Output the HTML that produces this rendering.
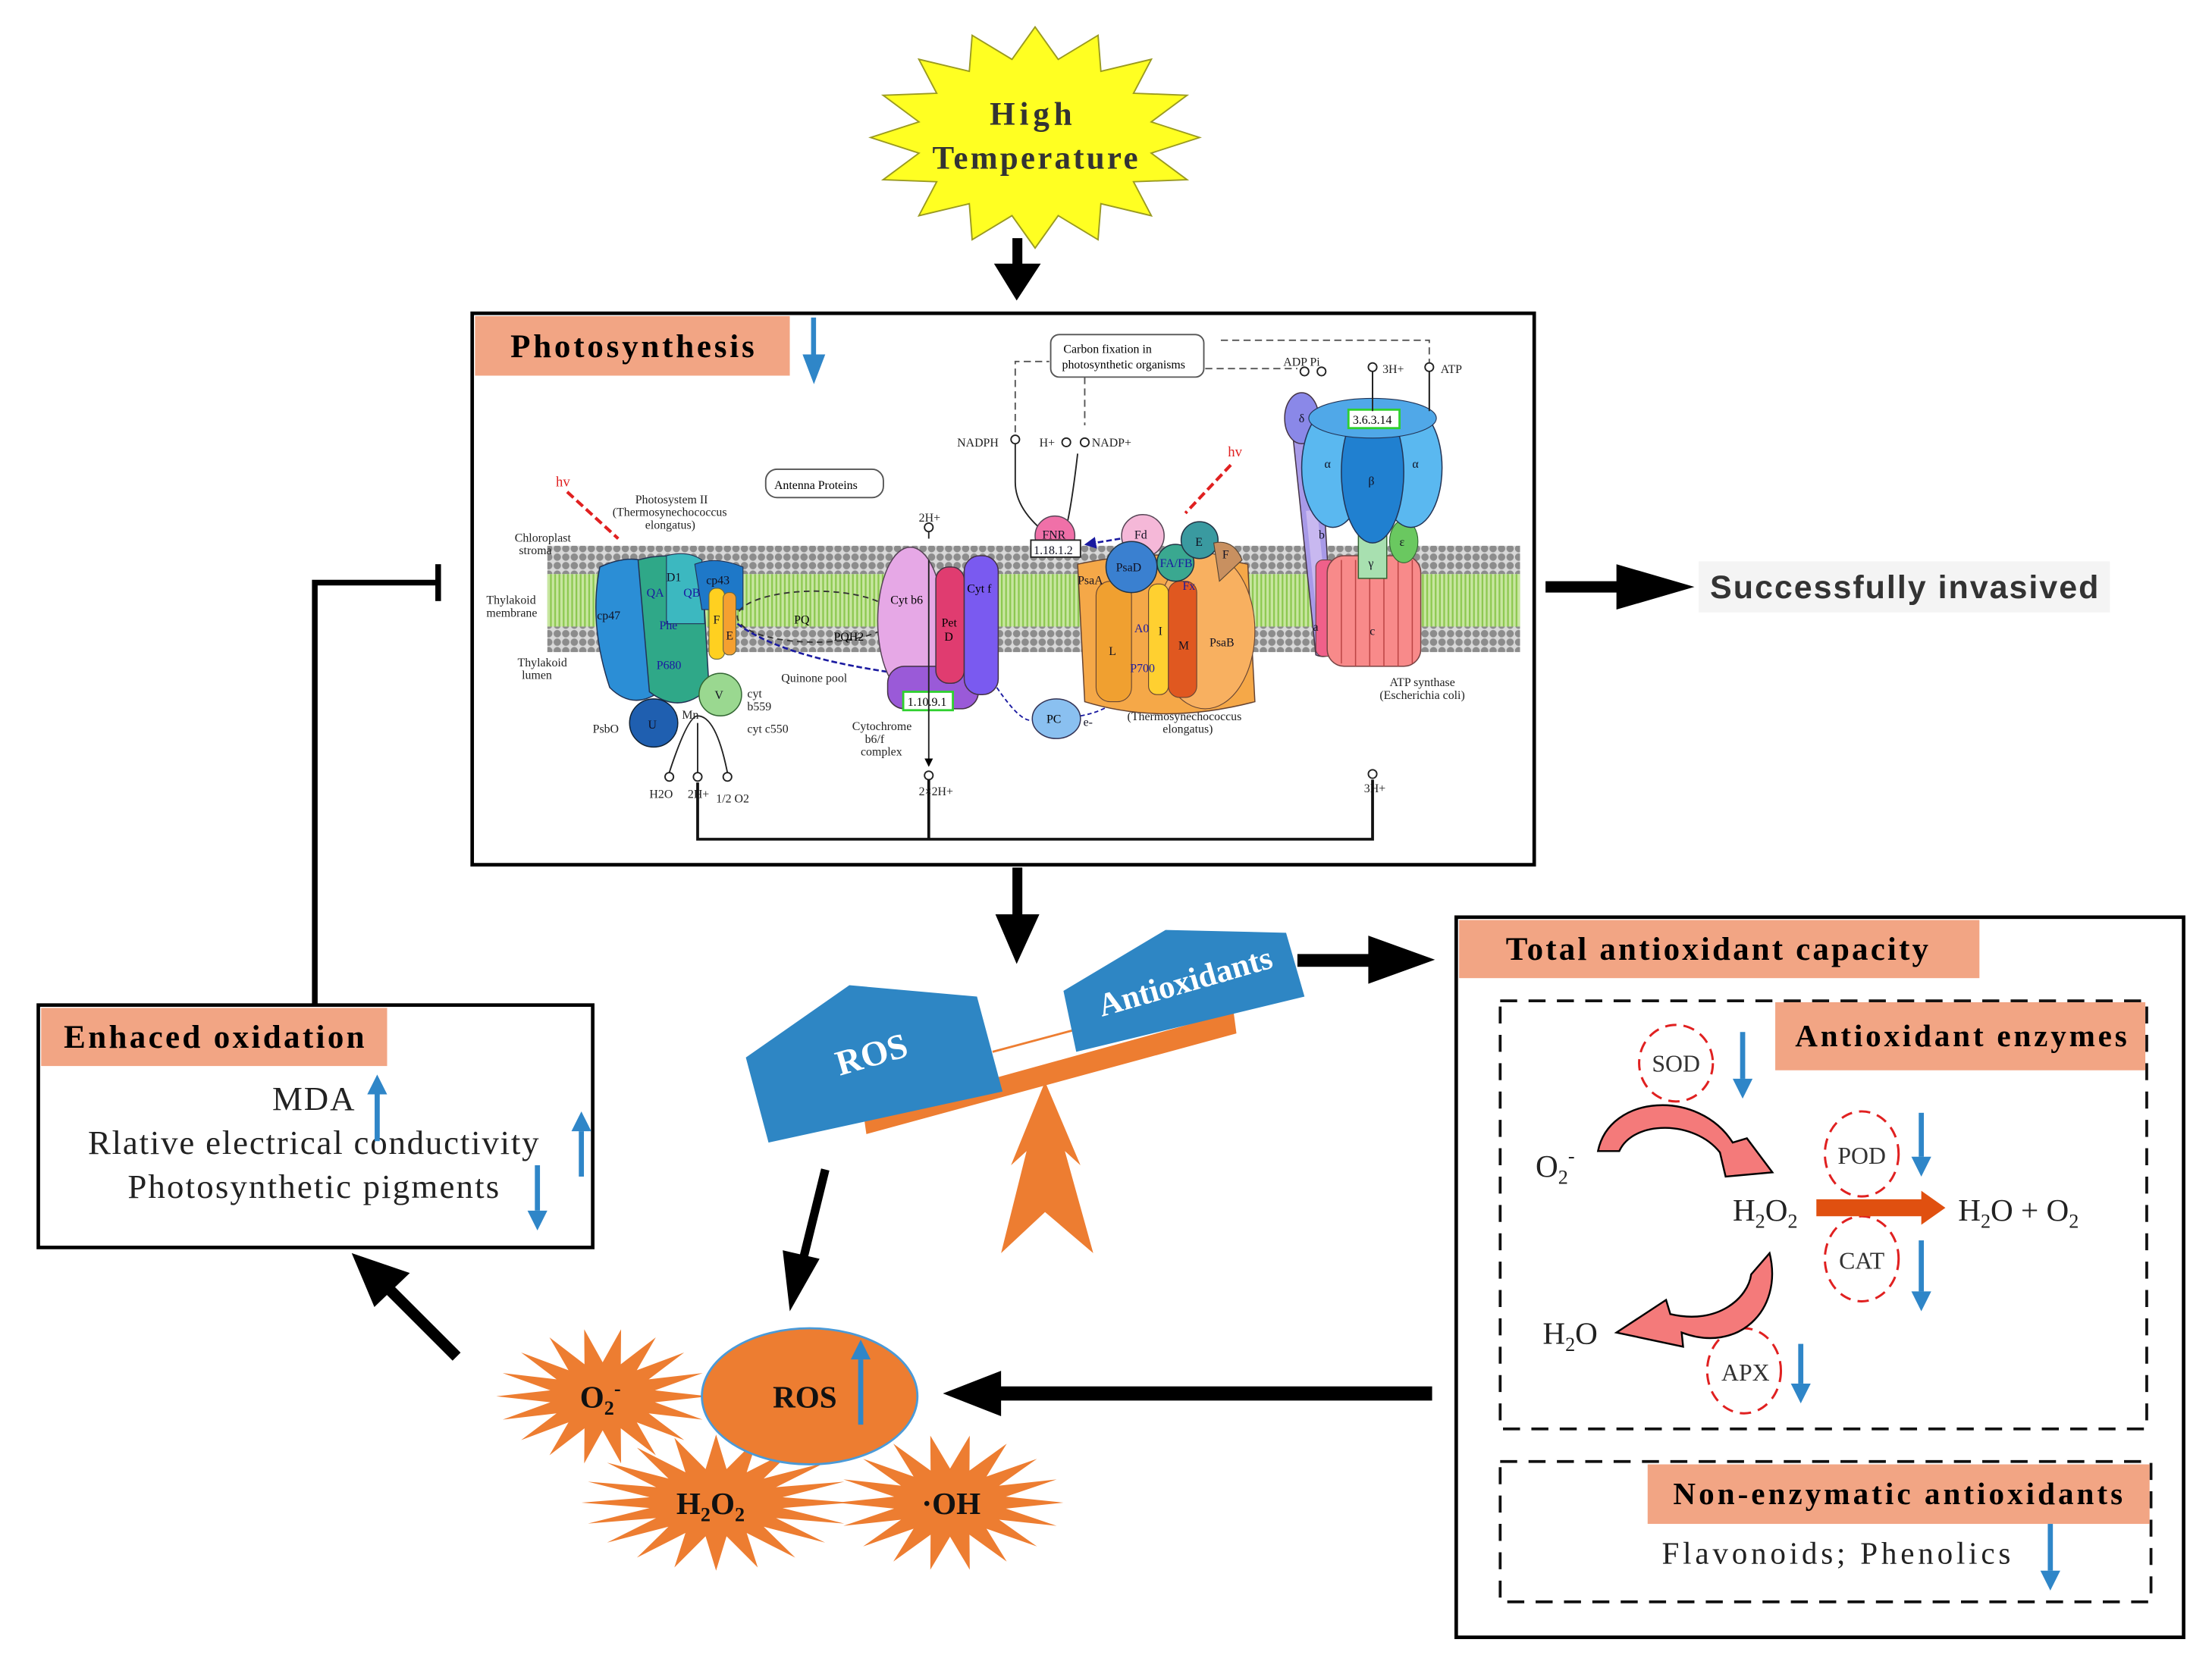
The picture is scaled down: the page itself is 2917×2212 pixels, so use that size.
<!DOCTYPE html>
<html><head><meta charset="utf-8"><style>
html,body{margin:0;padding:0;background:#fff}
svg{display:block}
.s{font-family:"Liberation Serif",serif}
.b{font-weight:bold}
.a{font-family:"Liberation Sans",sans-serif}
</style></head><body>
<svg id="sv" width="2917" height="2212" viewBox="0 0 1560 1183" xmlns="http://www.w3.org/2000/svg">
<defs>
<pattern id="dots" width="6" height="6" patternUnits="userSpaceOnUse"><rect width="6" height="6" fill="#d8d8d8"/><circle cx="3" cy="3" r="2.6" fill="#8c8c8c"/></pattern>
<pattern id="lip" width="6" height="10" patternUnits="userSpaceOnUse"><rect width="6" height="10" fill="#c8e6a0"/><path d="M1.5 0 V10 M4.5 0 V10" stroke="#8cc850" stroke-width="1.2"/></pattern>
<marker id="bh" markerWidth="6" markerHeight="6" refX="5" refY="3" orient="auto"><path d="M0 0 L6 3 L0 6 Z" fill="#000"/></marker>
<marker id="nh" markerWidth="6" markerHeight="6" refX="5" refY="3" orient="auto"><path d="M0 0 L6 3 L0 6 Z" fill="#1a1aa0"/></marker>
</defs>

<!-- star -->
<polygon id="star" fill="#ffff22" stroke="#9a9a20" stroke-width="1"/>
<text class="s b" x="727" y="88" font-size="23" text-anchor="middle" fill="#333" textLength="58">High</text>
<text class="s b" x="730" y="119" font-size="23" text-anchor="middle" fill="#333" textLength="145">Temperature</text>

<!-- arrow star -> photo -->
<rect x="714" y="168" width="7" height="22" fill="#000"/>
<polygon points="701,186 734,186 717,212" fill="#000"/>

<!-- Photosynthesis box -->
<rect x="333" y="221" width="749" height="389" fill="#fff" stroke="#000" stroke-width="2.5"/>
<rect x="335" y="223" width="222" height="42" fill="#f2a584"/>
<text class="s b" x="360" y="252" font-size="23" textLength="172">Photosynthesis</text>
<rect x="572" y="224" width="3.5" height="34" fill="#2f86c8"/>
<polygon points="566,250 582,250 574,271" fill="#2f86c8"/>

<!-- membrane -->
<rect x="386" y="385" width="686" height="20" fill="url(#dots)"/>
<rect x="386" y="405" width="686" height="37" fill="url(#lip)"/>
<rect x="386" y="442" width="686" height="18" fill="url(#dots)"/>

<g font-family="Liberation Serif,serif" font-size="8.5" fill="#222">
<text x="363" y="382">Chloroplast</text><text x="366" y="391">stroma</text>
<text x="343" y="426">Thylakoid</text><text x="343" y="435">membrane</text>
<text x="365" y="470">Thylakoid</text><text x="368" y="479">lumen</text>
<text x="448" y="355">Photosystem II</text><text x="432" y="364">(Thermosynechococcus</text><text x="455" y="373">elongatus)</text>
<text x="418" y="517">PsbO</text><text x="527" y="517">cyt c550</text><text x="527" y="492">cyt</text><text x="527" y="501">b559</text>
<text x="481" y="507">Mn</text><text x="551" y="481">Quinone pool</text>
<text x="601" y="515">Cytochrome</text><text x="610" y="524">b6/f</text><text x="607" y="533">complex</text>
<text x="803" y="499">Photosystem I</text><text x="795" y="508">(Thermosynechococcus</text><text x="820" y="517">elongatus)</text>
<text x="980" y="484">ATP synthase</text><text x="973" y="493">(Escherichia coli)</text>
<text x="675" y="315">NADPH</text><text x="733" y="315">H+</text><text x="770" y="315">NADP+</text>
<text x="905" y="258">ADP Pi</text><text x="975" y="263">3H+</text><text x="1016" y="263">ATP</text>
<text x="648" y="368">2H+</text><text x="458" y="563">H2O</text><text x="485" y="563">2H+</text><text x="505" y="566">1/2 O2</text>
<text x="648" y="561">2×2H+</text><text x="962" y="559">3H+</text>
</g>
<rect x="741" y="236" width="108" height="30" rx="6" fill="#fff" stroke="#555"/>
<text x="750" y="249" font-family="Liberation Serif,serif" font-size="8.5">Carbon fixation in</text>
<text x="749" y="260" font-family="Liberation Serif,serif" font-size="8.5">photosynthetic organisms</text>
<rect x="540" y="331" width="83" height="20" rx="8" fill="#fff" stroke="#555"/>
<text x="546" y="345" font-family="Liberation Serif,serif" font-size="8.5">Antenna Proteins</text>
<g fill="none" stroke="#555" stroke-dasharray="5,3" stroke-width="1">
<path d="M716 305 V255 H740"/><path d="M765 266 V300"/><path d="M850 260 H915"/><path d="M1008 258 V240 H858"/>
</g>
<g fill="none" stroke="#222" stroke-width="1">
<path d="M716 312 V340 Q716 360 740 378"/><path d="M760 320 Q756 355 752 372"/>
<path d="M968 262 V290"/><path d="M1008 262 V290"/>
</g>
<g fill="#fff" stroke="#222" stroke-width="1">
<circle cx="716" cy="310" r="3"/><circle cx="752" cy="312" r="3"/><circle cx="765" cy="312" r="3"/>
<circle cx="920" cy="262" r="3"/><circle cx="932" cy="262" r="3"/><circle cx="968" cy="259" r="3"/><circle cx="1008" cy="259" r="3"/>
<circle cx="655" cy="372" r="3"/><circle cx="655" cy="547" r="3"/><circle cx="968" cy="546" r="3"/>
<circle cx="472" cy="548" r="3"/><circle cx="492" cy="548" r="3"/><circle cx="513" cy="548" r="3"/>
</g>
<!-- hv -->
<text x="392" y="343" font-family="Liberation Serif,serif" font-size="10" fill="#e02020">hv</text>
<path d="M400 347 L436 380" stroke="#e02020" stroke-width="2.2" stroke-dasharray="6,3"/>
<text x="866" y="322" font-family="Liberation Serif,serif" font-size="10" fill="#e02020">hv</text>
<path d="M868 328 L836 362" stroke="#e02020" stroke-width="2.2" stroke-dasharray="6,3"/>

<!-- PSII -->
<path d="M423 400 Q445 390 460 398 L462 490 Q445 500 430 485 Q415 440 423 400Z" fill="#2b8ed6" stroke="#235" stroke-width=".8"/>
<path d="M450 395 Q475 388 495 398 L500 485 Q480 505 458 488 Z" fill="#2fa888" stroke="#235" stroke-width=".8"/>
<path d="M470 392 Q485 388 495 395 L497 440 L470 440Z" fill="#3cb8c0" stroke="#235" stroke-width=".6"/>
<path d="M490 398 Q505 392 524 400 L524 430 L495 430Z" fill="#1e78c8" stroke="#235" stroke-width=".6"/>
<rect x="500" y="415" width="11" height="50" rx="5" fill="#ffd020" stroke="#664" stroke-width=".6"/>
<rect x="510" y="418" width="9" height="44" rx="4" fill="#f5a030" stroke="#664" stroke-width=".6"/>
<circle cx="508" cy="490" r="15" fill="#9ad890" stroke="#363" stroke-width=".8"/>
<ellipse cx="461" cy="510" rx="17" ry="17" fill="#1f5fb0" stroke="#123" stroke-width=".8"/>
<g font-family="Liberation Serif,serif" font-size="8.5" fill="#112">
<text x="421" y="437">cp47</text><text x="470" y="410">D1</text><text x="498" y="412">cp43</text><text x="503" y="440">F</text><text x="512" y="451">E</text>
<text x="465" y="444" fill="#1a1aa0">Phe</text><text x="463" y="472" fill="#1a1aa0">P680</text><text x="456" y="421" fill="#1a1aa0">QA</text><text x="482" y="421" fill="#1a1aa0">QB</text>
<text x="504" y="493">V</text><text x="457" y="514">U</text>
</g>
<!-- PQ loop -->
<ellipse cx="575" cy="435" rx="55" ry="18" fill="none" stroke="#333" stroke-dasharray="4,3"/>
<text x="560" y="440" font-family="Liberation Serif,serif" font-size="8.5">PQ</text>
<text x="588" y="452" font-family="Liberation Serif,serif" font-size="8.5">PQH2</text>
<path d="M520 440 Q560 470 680 480" fill="none" stroke="#1a1aa0" stroke-width="1.4" stroke-dasharray="4,2" marker-end="url(#nh)"/>
<!-- Cyt b6f -->
<ellipse cx="642" cy="438" rx="23" ry="52" fill="#e6a8e6" stroke="#545" stroke-width=".8"/>
<rect x="626" y="470" width="64" height="30" rx="12" fill="#9a5ad8" stroke="#434" stroke-width=".8"/>
<rect x="660" y="400" width="20" height="82" rx="9" fill="#e03c70" stroke="#434" stroke-width=".8"/>
<rect x="680" y="392" width="24" height="98" rx="11" fill="#7a5af0" stroke="#434" stroke-width=".8"/>
<text x="628" y="426" font-family="Liberation Serif,serif" font-size="8.5">Cyt b6</text>
<text x="664" y="442" font-family="Liberation Serif,serif" font-size="8.5">Pet</text><text x="666" y="452" font-family="Liberation Serif,serif" font-size="8.5">D</text>
<text x="682" y="418" font-family="Liberation Serif,serif" font-size="8.5">Cyt f</text>
<rect x="637" y="488" width="35" height="13" fill="#fff" stroke="#2fd02f" stroke-width="1.5"/>
<text x="640" y="498" font-family="Liberation Serif,serif" font-size="8.5">1.10.9.1</text>
<path d="M655 375 V380 M655 395 V540" stroke="#222" stroke-width="1" marker-end="url(#bh)"/>
<!-- PC -->
<ellipse cx="745" cy="507" rx="17" ry="14" fill="#8ac0f0" stroke="#335" stroke-width=".8"/>
<text x="738" y="510" font-family="Liberation Serif,serif" font-size="8.5">PC</text>
<path d="M703 485 Q720 510 728 508 M762 505 Q790 500 800 478" fill="none" stroke="#1a1aa0" stroke-dasharray="3,2" stroke-width="1"/>
<!-- PSI -->
<path d="M760 398 Q820 385 880 398 L885 495 Q820 512 765 495 Z" fill="#f5a848" stroke="#643" stroke-width=".8"/>
<ellipse cx="850" cy="445" rx="35" ry="55" fill="#f8b060" stroke="#643" stroke-width=".6"/>
<rect x="773" y="410" width="25" height="85" rx="10" fill="#f0a030" stroke="#643" stroke-width=".6"/>
<rect x="810" y="412" width="14" height="78" rx="6" fill="#ffd030" stroke="#643" stroke-width=".6"/>
<rect x="824" y="410" width="20" height="82" rx="8" fill="#e05820" stroke="#643" stroke-width=".6"/>
<circle cx="806" cy="378" r="15" fill="#f5b8d8" stroke="#545" stroke-width=".8"/>
<circle cx="798" cy="400" r="18" fill="#3a80d0" stroke="#234" stroke-width=".8"/>
<circle cx="829" cy="397" r="13" fill="#3aa890" stroke="#234" stroke-width=".8"/>
<circle cx="846" cy="381" r="13" fill="#3a9aa0" stroke="#234" stroke-width=".8"/>
<path d="M856 383 Q870 380 876 395 L860 410 Z" fill="#c89060" stroke="#543" stroke-width=".6"/>
<circle cx="744" cy="378" r="14" fill="#f070a8" stroke="#545" stroke-width=".8"/>
<rect x="727" y="381" width="35" height="12" fill="#fff" stroke="#222" stroke-width="1"/>
<g font-family="Liberation Serif,serif" font-size="8.5" fill="#112">
<text x="735" y="380">FNR</text><text x="729" y="391">1.18.1.2</text><text x="800" y="380">Fd</text><text x="787" y="403">PsaD</text>
<text x="843" y="385">E</text><text x="862" y="394">F</text><text x="760" y="412">PsaA</text><text x="782" y="462">L</text><text x="831" y="458">M</text><text x="817" y="448">I</text>
<text x="853" y="456">PsaB</text><text x="800" y="446" fill="#1a1aa0">A0</text><text x="797" y="474" fill="#1a1aa0">P700</text><text x="834" y="416" fill="#1a1aa0">Fx</text><text x="818" y="400" fill="#1a1aa0">FA/FB</text>
<text x="764" y="512">e-</text>
</g>
<path d="M790 380 L766 384" stroke="#1a1aa0" stroke-width="1.4" stroke-dasharray="4,2" marker-end="url(#nh)"/>
<!-- ATP synthase -->
<path d="M910 290 Q918 275 930 290 L940 460 Q935 465 928 462 Z" fill="#a89ae8" stroke="#434" stroke-width=".8"/>
<ellipse cx="918" cy="295" rx="12" ry="18" fill="#8a88e8" stroke="#434" stroke-width=".8"/>
<path d="M925 360 L935 460" stroke="#c8b8f0" stroke-width="8"/>
<rect x="928" y="395" width="14" height="68" rx="5" fill="#f0608a" stroke="#644" stroke-width=".6"/>
<rect x="936" y="392" width="66" height="78" rx="12" fill="#f88a8a" stroke="#744" stroke-width=".8"/>
<g stroke="#b44" stroke-width=".8"><path d="M946 395 V468 M956 395 V470 M966 395 V470 M976 395 V470 M986 395 V470 M996 395 V468"/></g>
<rect x="958" y="360" width="20" height="48" fill="#a8e0b0" stroke="#363" stroke-width=".8"/>
<ellipse cx="990" cy="382" rx="10" ry="15" fill="#6ac860" stroke="#363" stroke-width=".6"/>
<ellipse cx="940" cy="330" rx="22" ry="42" fill="#5ab8f0" stroke="#235" stroke-width=".8"/>
<ellipse cx="995" cy="330" rx="22" ry="42" fill="#5ab8f0" stroke="#235" stroke-width=".8"/>
<ellipse cx="968" cy="333" rx="22" ry="50" fill="#2080d0" stroke="#235" stroke-width=".8"/>
<ellipse cx="968" cy="295" rx="45" ry="14" fill="#50a8e8" stroke="#235" stroke-width=".6"/>
<rect x="951" y="289" width="36" height="13" fill="#fff" stroke="#2fd02f" stroke-width="1.5"/>
<text x="954" y="299" font-family="Liberation Serif,serif" font-size="8.5">3.6.3.14</text>
<g font-family="Liberation Serif,serif" font-size="8.5" fill="#112"><text x="916" y="298">δ</text><text x="934" y="330">α</text><text x="996" y="330">α</text><text x="965" y="342">β</text><text x="965" y="400">γ</text><text x="987" y="385">ε</text><text x="930" y="380">b</text><text x="966" y="448">c</text><text x="926" y="445">a</text></g>
<path d="M968 290 V262 M1008 290 V262" stroke="#222"/>
<!-- H+ lines -->
<path d="M472 545 Q485 505 492 505 Q505 505 513 545 M492 510 V545" fill="none" stroke="#222"/>
<path d="M492 552 V592 H968 V550" fill="none" stroke="#111" stroke-width="2"/>
<path d="M655 550 V592" stroke="#111" stroke-width="2"/>

<!-- Successfully invasived -->
<rect x="1090" y="410" width="55" height="8" fill="#000"/>
<polygon points="1140,398 1195,414 1140,430" fill="#000"/>
<rect x="1198" y="396" width="290" height="36" fill="#f4f4f4"/>
<text class="a b" x="1206" y="422" font-size="23" fill="#333" textLength="274">Successfully invasived</text>

<!-- arrow photo -> seesaw -->
<rect x="714" y="612" width="7" height="36" fill="#000"/>
<polygon points="702,645 733,645 717,680" fill="#000"/>

<!-- seesaw -->
<polygon points="609,786 870,714 872,729 611,800" fill="#ed7d31"/>
<line x1="700" y1="742" x2="756" y2="727" stroke="#ed7d31" stroke-width="1.5"/>
<polygon points="737,763 762,822 751,812 771,884 737,855 706,884 724,812 713,822" fill="#ed7d31"/>
<polygon points="526,746 599,695 689,703 707,770 542,806" fill="#2e86c4"/>
<polygon points="750,699 822,656 907,658 920,703 759,742" fill="#2e86c4"/>
<text class="s b" x="615" y="752" font-size="25" fill="#fff" text-anchor="middle" transform="rotate(-16 615 745)">ROS</text>
<text class="s b" x="836" y="700" font-size="23" fill="#fff" text-anchor="middle" transform="rotate(-16 836 693)">Antioxidants</text>
<rect x="915" y="673" width="55" height="9" fill="#000"/>
<polygon points="965,660 1012,677 965,694" fill="#000"/>

<!-- Total antioxidant capacity -->
<rect x="1027" y="647" width="513" height="508" fill="#fff" stroke="#000" stroke-width="2.5"/>
<rect x="1029" y="649" width="367" height="41" fill="#f2a584"/>
<text class="s b" x="1062" y="677" font-size="23" textLength="298">Total antioxidant capacity</text>
<rect x="1058" y="706" width="456" height="302" fill="none" stroke="#111" stroke-width="2" stroke-dasharray="12,8"/>
<rect x="1252" y="707" width="261" height="48" fill="#f2a584"/>
<text class="s b" x="1266" y="738" font-size="22" textLength="234">Antioxidant enzymes</text>
<rect x="1058" y="1031" width="459" height="99" fill="none" stroke="#111" stroke-width="2" stroke-dasharray="12,8"/>
<rect x="1162" y="1033" width="354" height="42" fill="#f2a584"/>
<text class="s b" x="1180" y="1061" font-size="22" textLength="317">Non-enzymatic antioxidants</text>
<text class="s" x="1172" y="1103" font-size="22" fill="#222" textLength="246">Flavonoids;  Phenolics</text>

<g fill="none" stroke="#e02020" stroke-width="1.6" stroke-dasharray="8,5">
<ellipse cx="1182" cy="750" rx="26" ry="27"/><ellipse cx="1313" cy="814" rx="26" ry="30"/><ellipse cx="1313" cy="888" rx="26" ry="30"/><ellipse cx="1230" cy="967" rx="26" ry="30"/>
</g>
<g class="s" font-size="17" fill="#333" text-anchor="middle">
<text x="1182" y="756">SOD</text><text x="1313" y="821">POD</text><text x="1313" y="895">CAT</text><text x="1231" y="974">APX</text>
</g>
<path d="M1127 812 C1135 772 1198 768 1222 806 L1232 803 L1250 827 L1217 830 L1213 813 C1195 790 1152 790 1142 812 Z" fill="#f47a7a" stroke="#000" stroke-width="1.3"/>
<path d="M1248 884 C1258 925 1225 955 1186 940 L1187 950 L1140 940 L1175 917 L1178 927 C1212 935 1233 915 1235 899 Z" fill="#f47a7a" stroke="#000" stroke-width="1.3"/>
<g class="s" font-size="22" fill="#222">
<text x="1083" y="830">O<tspan font-size="14" dy="5">2</tspan><tspan font-size="14" dy="-15">-</tspan></text>
<text x="1222" y="861">H<tspan font-size="14" dy="5">2</tspan><tspan dy="-5">O</tspan><tspan font-size="14" dy="5">2</tspan></text>
<text x="1381" y="861">H<tspan font-size="14" dy="5">2</tspan><tspan dy="-5">O + O</tspan><tspan font-size="14" dy="5">2</tspan></text>
<text x="1088" y="948">H<tspan font-size="14" dy="5">2</tspan><tspan dy="-5">O</tspan></text>
</g>
<polygon points="1281,846 1355,846 1355,840 1372,852 1355,864 1355,858 1281,858" fill="#e05010"/>

<!-- Enhaced oxidation -->
<rect x="27" y="709" width="391" height="171" fill="#fff" stroke="#000" stroke-width="2.5"/>
<rect x="29" y="711" width="244" height="41" fill="#f2a584"/>
<text class="s b" x="45" y="739" font-size="23" textLength="212">Enhaced oxidation</text>
<g class="s" font-size="24" fill="#222">
<text x="192" y="783" textLength="58">MDA</text><text x="62" y="814" textLength="318">Rlative electrical conductivity</text><text x="90" y="845" textLength="262">Photosynthetic pigments</text>
</g>
<!-- feedback line -->
<path d="M222 708 V411 H308" fill="none" stroke="#000" stroke-width="4"/>
<rect x="307" y="398" width="4" height="26" fill="#000"/>

<!-- arrows bottom -->
<line x1="322" y1="957" x2="268" y2="903" stroke="#000" stroke-width="8"/>
<polygon points="248,884 289,898 264,922" fill="#000"/>
<line x1="582" y1="825" x2="566" y2="890" stroke="#000" stroke-width="6"/>
<polygon points="552,882 578,888 557,925" fill="#000"/>
<rect x="700" y="978" width="310" height="10" fill="#000"/>
<polygon points="665,983 706,967 706,999" fill="#000"/>

<!-- bursts -->
<polygon id="b1" fill="#ed7d31"/><polygon id="b2" fill="#ed7d31"/><polygon id="b3" fill="#ed7d31"/>
<ellipse cx="571" cy="985" rx="76" ry="48" fill="#ed7d31" stroke="#4a9ad8" stroke-width="1.5"/>
<g class="s b" font-size="22" fill="#111">
<text x="409" y="993">O<tspan font-size="14" dy="5">2</tspan><tspan font-size="14" dy="-14">-</tspan></text>
<text x="545" y="993">ROS</text>
<text x="477" y="1068">H<tspan font-size="14" dy="5">2</tspan><tspan dy="-5">O</tspan><tspan font-size="14" dy="5">2</tspan></text>
<text x="650" y="1068">·OH</text>
</g>

<!-- blue arrows (on top) -->
<g fill="#2f86c8" id="barrows"></g>
</svg>
<script>
function burst(id,cx,cy,rx,ry,n,inner,rot){var p=[];for(var i=0;i<2*n;i++){var a=Math.PI*i/n+(rot||0);var r=i%2?inner:1;p.push((cx+rx*r*Math.cos(a)).toFixed(1)+","+(cy+ry*r*Math.sin(a)).toFixed(1));}document.getElementById(id).setAttribute("points",p.join(" "));}
burst("star",730,97,116,78,16,0.72,-Math.PI/2);
burst("b1",425,985,75,48,18,0.5,0);
burst("b2",505,1060,95,48,20,0.5,0);
burst("b3",670,1060,80,48,18,0.5,0);
var g=document.getElementById("barrows"),ns="http://www.w3.org/2000/svg";
function ba(x,y1,y2){var up=y2<y1;var r=document.createElementNS(ns,"rect");var hy=up?y2+14:y2-14;r.setAttribute("x",x-1.8);r.setAttribute("width",3.6);r.setAttribute("y",Math.min(y1,hy));r.setAttribute("height",Math.abs(hy-y1));g.appendChild(r);var t=document.createElementNS(ns,"polygon");t.setAttribute("points",(x-7)+","+hy+" "+(x+7)+","+hy+" "+x+","+y2);g.appendChild(t);}
ba(1229,728,775);ba(1355,785,830);ba(1355,875,925);ba(1270,948,990);ba(1446,1075,1122);
ba(266,805,758);ba(410,830,784);ba(379,822,868);ba(607,1005,945);
</script>
</body></html>
